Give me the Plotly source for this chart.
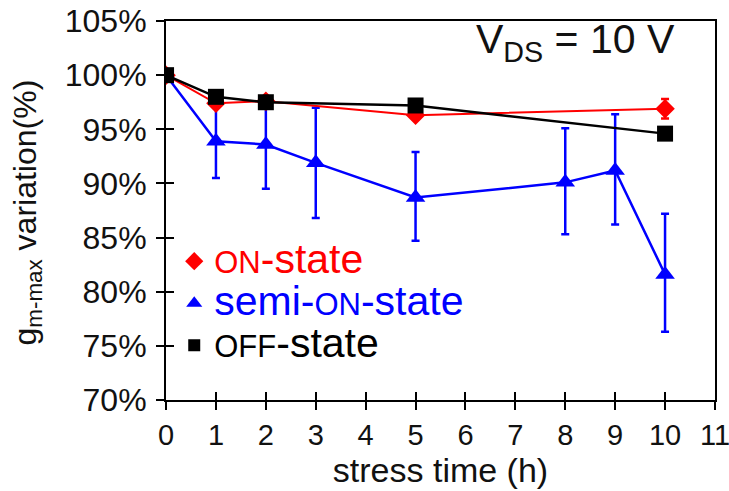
import plotly.graph_objects as go

# Stress time (h) for each measurement series
t_on = [0, 1, 2, 5, 10]
t_semi = [0, 1, 2, 3, 5, 8, 9, 10]
t_off = [0, 1, 2, 5, 10]

# g_m-max variation (%) relative to the fresh device
g_on = [100, 97.4, 97.6, 96.3, 96.9]
g_on_err = [0, 0, 0, 0, 0.9]

g_semi = [100, 93.9, 93.6, 91.9, 88.7, 90.1, 91.2, 81.6]
g_semi_err_plus = [0, 3.4, 4.1, 5.1, 4.2, 5.0, 5.2, 5.6]
g_semi_err_minus = [0, 3.4, 4.1, 5.1, 4.0, 4.8, 5.0, 5.3]

g_off = [100, 98.0, 97.5, 97.2, 94.6]

y_ticks = [70, 75, 80, 85, 90, 95, 100, 105]
y_tick_text = [f"{v}%" for v in y_ticks]
x_ticks = list(range(0, 12))
x_tick_text = [str(v) for v in x_ticks]

RED = "#ff0000"
BLUE = "#0000ff"
BLACK = "#000000"
FONT = "Arial, Liberation Sans, sans-serif"
X_RANGE = [-0.001, 11.001]
Y_RANGE = [69.997, 105.003]

fig = go.Figure()

fig.add_trace(go.Scatter(
    x=t_semi, y=g_semi, mode="lines+markers", showlegend=False,
    line=dict(color=BLUE, width=2.5),
    marker=dict(symbol="triangle-up", size=17, color=BLUE),
    error_y=dict(type="data", symmetric=False, array=g_semi_err_plus,
                 arrayminus=g_semi_err_minus, color=BLUE, thickness=2.5, width=4),
))
fig.add_trace(go.Scatter(
    x=t_on, y=g_on, mode="lines+markers", showlegend=False,
    line=dict(color=RED, width=2),
    marker=dict(symbol="diamond", size=15, color=RED),
    error_y=dict(type="data", array=g_on_err, color=RED, thickness=2.5, width=4),
))
fig.add_trace(go.Scatter(
    x=t_off, y=g_off, mode="lines+markers", showlegend=False,
    line=dict(color=BLACK, width=2.5),
    marker=dict(symbol="square", size=16, color=BLACK),
))

# Legend entries (markers only, coloured text with small-caps "ON"/"OFF")
def legend_label(color, prefix, caps):
    return (f'<span style="color:{color};font-size:41px">{prefix}'
            f'<span style="font-size:31px">{caps}</span>-state</span>')

legend_items = [
    ("diamond", RED, 14, legend_label(RED, "", "ON")),
    ("triangle-up", BLUE, 14, legend_label(BLUE, "semi-", "ON")),
    ("square", BLACK, 12, legend_label(BLACK, "", "OFF")),
]
for sym, col, sz, name in legend_items:
    fig.add_trace(go.Scatter(
        x=[None], y=[None], mode="markers", name=name,
        marker=dict(symbol=sym, size=sz, color=col),
        xaxis="x2", yaxis="y2",
    ))

axis_common = dict(
    showline=True, linecolor=BLACK, linewidth=2,
    ticks="outside", ticklen=8, tickwidth=2, tickcolor=BLACK,
    showgrid=False, zeroline=False, ticklabeloverflow="allow", automargin=False,
)

fig.update_layout(
    width=729, height=491,
    margin=dict(l=166, r=14, t=21, b=91),
    paper_bgcolor="white", plot_bgcolor="white",
    font=dict(family=FONT, color="#111"),
    xaxis=dict(
        range=X_RANGE, tickmode="array", tickvals=x_ticks, ticktext=x_tick_text,
        mirror=True, tickfont=dict(family=FONT, size=29, color="#111"), **axis_common,
        title=dict(text="stress time (h)", font=dict(size=34), standoff=2),
    ),
    yaxis=dict(
        range=Y_RANGE, tickmode="array", tickvals=y_ticks, ticktext=y_tick_text,
        mirror=True, tickfont=dict(family=FONT, size=32, color="#111"),
        ticklabelstandoff=3, **axis_common,
    ),
    # overlay axes supply the inner half of the crossing tick marks
    xaxis2=dict(range=X_RANGE, tickmode="array", tickvals=x_ticks, overlaying="x",
                anchor="y", side="bottom", showline=False, showgrid=False,
                zeroline=False, ticks="inside", ticklen=8, tickwidth=2,
                tickcolor=BLACK, showticklabels=False),
    yaxis2=dict(range=Y_RANGE, tickmode="array", tickvals=y_ticks, overlaying="y",
                anchor="x", side="left", showline=False, showgrid=False,
                zeroline=False, ticks="inside", ticklen=8, tickwidth=2,
                tickcolor=BLACK, showticklabels=False),
    legend=dict(
        x=0.015, y=0.435, xanchor="left", yanchor="top",
        bgcolor="rgba(0,0,0,0)", font=dict(family=FONT, size=30),
        tracegroupgap=0, itemsizing="trace",
    ),
    annotations=[
        dict(
            text="V<sub>DS</sub> = 10 V", x=0.745, y=0.945, xref="paper", yref="paper",
            xanchor="center", yanchor="middle", showarrow=False,
            font=dict(family=FONT, size=41, color="#111"),
        ),
        # y-axis title
        dict(
            text="g<sub>m-max</sub> variation(%)", textangle=-90,
            x=-0.253, y=0.495, xref="paper", yref="paper",
            xanchor="center", yanchor="middle", showarrow=False,
            font=dict(family=FONT, size=32, color="#111"),
        ),
    ],
)

fig.write_html("out.html")
